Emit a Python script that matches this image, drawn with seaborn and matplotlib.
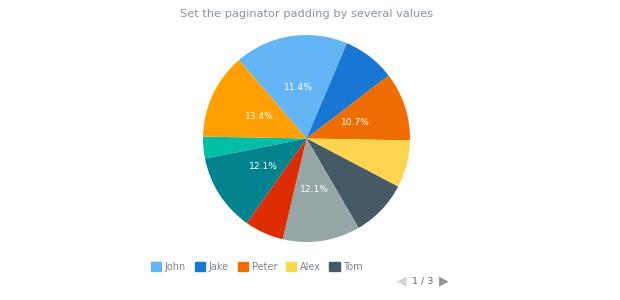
import matplotlib
matplotlib.use("Agg")
import matplotlib.pyplot as plt
import matplotlib.patches as mpatches
import seaborn as sns

sns.set_theme(style="white")
plt.rcParams['font.family'] = ['DejaVu Sans']

names = ["John", "Jake", "Peter", "Alex", "Tom", "Mary", "Mike", "Anna", "Kate", "Sam"]
values = [17.7, 8.2, 10.7, 7.4, 8.9, 12.1, 6.1, 12.1, 3.4, 13.4]
label_texts = ["11.4%", "", "10.7%", "", "", "12.1%", "", "12.1%", "", "13.4%"]
colors = ["#64b5f6", "#1976d2", "#ef6c00", "#ffd54f", "#455a64",
          "#96a6a6", "#dd2c00", "#00838f", "#00bfa5", "#ffa000"]
legend_names = names[:5]
title = "Set the paginator padding by several values"
page_text = "1 / 3"

W, H = 620, 300
fig = plt.figure(figsize=(W / 100, H / 100), dpi=100)
fig.patch.set_facecolor("white")

cx, cy, r = 306.5, 138.5, 103.5
ax = fig.add_axes([(cx - r) / W, 1 - (cy + r) / H, 2 * r / W, 2 * r / H])
wedges, texts = ax.pie(values, colors=colors, startangle=130.7, counterclock=False,
                       labels=label_texts, labeldistance=0.5,
                       textprops=dict(color="white", fontsize=6.6, ha="center", va="center"),
                       wedgeprops=dict(linewidth=0))
ax.set_xlim(-1, 1)
ax.set_ylim(-1, 1)
ax.set_aspect("equal")
ax.axis("off")

fig.text(306.5 / W, 1 - 14 / H, title, ha="center", va="center", color="#8a949c", fontsize=8.2)

handles = [mpatches.Patch(color=c, label=n) for n, c in zip(legend_names, colors[:5])]
leg = fig.legend(handles=handles, loc="center", bbox_to_anchor=(257 / W, 1 - 266.5 / H),
                 ncol=5, frameon=False, fontsize=7, handlelength=1.08, handleheight=1.08,
                 handletextpad=0.35, columnspacing=0.9, labelcolor="#7c868e")

fig.text(402 / W, 1 - 281 / H, "◀", ha="center", va="center", color="#d0d4d8", fontsize=9)
fig.text(422.5 / W, 1 - 281 / H, page_text, ha="center", va="center", color="#5a6670", fontsize=6.8)
fig.text(443.5 / W, 1 - 281 / H, "▶", ha="center", va="center", color="#8c9399", fontsize=9)

fig.savefig("out.png", dpi=100, facecolor="white")
